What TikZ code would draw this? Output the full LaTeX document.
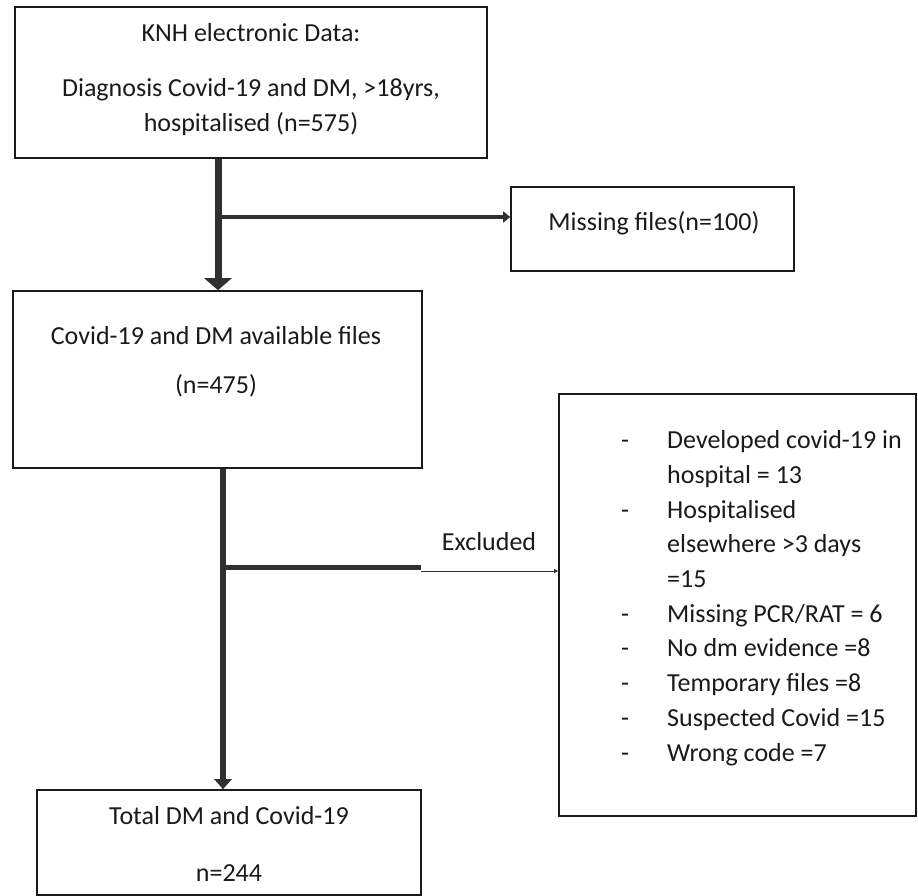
\documentclass[tikz,border=0pt]{standalone}
\usepackage{fontspec}
\setmainfont{Carlito}
\usetikzlibrary{arrows.meta,positioning}
\definecolor{arrgray}{RGB}{48,48,48}
\definecolor{inkblack}{RGB}{26,26,26}
\newcommand{\dashitem}{\makebox[46pt][l]{-}}
\newcommand{\contline}{\hspace*{46pt}}

\begin{document}
\begin{tikzpicture}[x=1pt, y=-1pt,
    frame/.style={draw=inkblack, line width=1.6pt, inner sep=0pt},
    txt/.style={inner sep=0pt, align=center, text=inkblack, font=\fontsize{26}{35}\selectfont},
    bigarr/.style={draw=arrgray, line width=7pt, -{Triangle[width=27pt,length=12pt]}},
    midarr/.style={draw=arrgray, line width=5.5pt, -{Triangle[width=17pt,length=10pt]}},
    sidearr/.style={draw=arrgray, line width=4pt, -{Triangle[width=11pt,length=7pt]}},
    thinarr/.style={draw=arrgray, line width=1pt, -{Triangle[width=4pt,length=4pt]}}
  ]
  \useasboundingbox (0,0) rectangle (918,896);

  % boxes
  \node[frame, minimum width=472pt, minimum height=151pt] (src) at (251,82.5) {};
  \node[frame, minimum width=283pt, minimum height=84pt] (miss) at (652.5,229) {};
  \node[frame, minimum width=409pt, minimum height=177pt] (avail) at (217.5,379.5) {};
  \node[frame, minimum width=357pt, minimum height=422pt] (excl) at (737.5,605) {};
  \node[frame, minimum width=384pt, minimum height=105pt] (total) at (229,842.5) {};

  % box texts
  \node[txt] (srctxt) at (251,80) {KNH electronic Data:\\[20pt]Diagnosis Covid-19 and DM, >18yrs,\\hospitalised (n=575)};
  \node[txt] (misstxt) at (654,223) {Missing files(n=100)};
  \node[txt] (availtxt) at (216,362) {Covid-19 and DM available files\\[14pt](n=475)};
  \node[txt] (totaltxt) at (229,843.5) {Total DM and Covid-19\\[22pt]n=244};
  \node[txt] (excltxt) at (489,542) {Excluded};
  \node[txt, align=left, anchor=base west, font=\fontsize{26}{34.7}\selectfont] (reasons) at (621,761) {%
    \dashitem Developed covid-19 in\\
    \contline hospital = 13\\
    \dashitem Hospitalised\\
    \contline elsewhere >3 days\\
    \contline =15\\
    \dashitem Missing PCR/RAT = 6\\
    \dashitem No dm evidence =8\\
    \dashitem Temporary files =8\\
    \dashitem Suspected Covid =15\\
    \dashitem Wrong code =7};

  % connectors
  \coordinate (j1) at (218,217);
  \coordinate (j2) at (223,567);
  \coordinate (j2end) at (421,567);
  \coordinate (j2thin) at (421,571);
  \draw[bigarr] (src.south -| j1) -- (avail.north -| j1);
  \draw[sidearr] (j1) -- (j1 -| miss.west);
  \draw[midarr] (avail.south -| j2) -- (total.north -| j2);
  \draw[draw=arrgray, line width=5pt] (j2) -- (j2end);
  \draw[thinarr] (j2thin) -- (j2thin -| excl.west);
\end{tikzpicture}
\end{document}
